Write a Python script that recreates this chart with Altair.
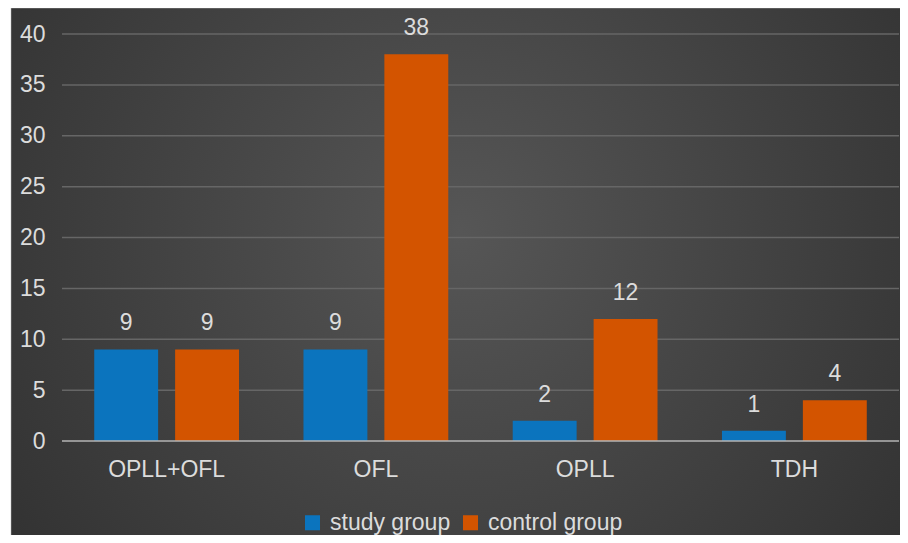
import altair as alt
import pandas as pd

categories = ["OPLL+OFL", "OFL", "OPLL", "TDH"]
study_group = [9, 9, 2, 1]
control_group = [9, 38, 12, 4]
series_names = ["study group", "control group"]
series_colors = ["#0B74BE", "#D35400"]
y_ticks = [0, 5, 10, 15, 20, 25, 30, 35, 40]

rows = []
for i, c in enumerate(categories):
    rows.append({"category": c, "group": series_names[0], "value": study_group[i]})
    rows.append({"category": c, "group": series_names[1], "value": control_group[i]})
df = pd.DataFrame(rows)

W, H = 837, 407
PAD_L, PAD_T, PAD_R, PAD_B = 54, 26, 1, 94
FONT = "Liberation Sans"
FS = 23
TXT = "#DCDCDC"

bg = alt.Chart(pd.DataFrame({"a": [0]})).mark_rect(
    fill=alt.RadialGradient(
        gradient="radial",
        x1=0.5, y1=0.45, r1=0.0,
        x2=0.5, y2=0.45, r2=0.75,
        stops=[
            alt.GradientStop(offset=0, color="#565656"),
            alt.GradientStop(offset=1, color="#2A2A2A"),
        ],
    ),
    stroke="#BBBBBB", strokeWidth=0.5,
).encode(
    x=alt.value(-51), x2=alt.value(W + PAD_R + 10),
    y=alt.value(-PAD_T), y2=alt.value(H + PAD_B + 10),
)

yscale = alt.Scale(domain=[0, 40], nice=False)

grid = alt.Chart(pd.DataFrame({"t": y_ticks[1:]})).mark_rule(
    color="#666666", strokeWidth=1.5
).encode(y=alt.Y("t:Q", scale=yscale, title=None), x=alt.value(0), x2=alt.value(W))

xenc = alt.X("category:N", sort=categories, title=None,
             scale=alt.Scale(paddingInner=0.308, paddingOuter=0.154),
             axis=alt.Axis(labelAngle=0, labelFontSize=FS, labelColor=TXT, labelFont=FONT,
                           ticks=False, domain=False, labelPadding=17, zindex=2))
xoff = alt.XOffset("group:N", sort=series_names,
                   scale=alt.Scale(paddingInner=0.21, paddingOuter=0))
yenc = alt.Y("value:Q", title=None, scale=yscale,
             axis=alt.Axis(values=y_ticks,
                           labelFontSize=FS, labelColor=TXT, labelFont=FONT,
                           ticks=False, domain=False, labelPadding=17,
                           grid=False, zindex=2))

bars = alt.Chart(df).mark_bar().encode(
    x=xenc, xOffset=xoff, y=yenc,
    color=alt.Color("group:N", sort=series_names,
                    scale=alt.Scale(domain=series_names, range=series_colors),
                    legend=alt.Legend(title=None, orient="none", legendX=239, legendY=H + 70,
                                      direction="horizontal", symbolType="square",
                                      symbolSize=225, symbolStrokeWidth=0,
                                      labelFontSize=FS, labelColor=TXT, labelFont=FONT,
                                      columnPadding=8, labelOffset=6)),
)

labels = alt.Chart(df).mark_text(dy=-26, fontSize=FS, color=TXT, font=FONT).encode(
    x=alt.X("category:N", sort=categories), xOffset=alt.XOffset("group:N", sort=series_names),
    y="value:Q", text="value:Q",
)

zero = alt.Chart(pd.DataFrame({"v": [0]})).mark_rule(color="#B5B5B5", strokeWidth=1.5).encode(
    y="v:Q", x=alt.value(0), x2=alt.value(W)
)

chart = alt.layer(bg, grid, bars, labels, zero).properties(
    width=W, height=H,
    autosize=alt.AutoSizeParams(type="none"),
    padding={"left": PAD_L, "top": PAD_T, "right": PAD_R, "bottom": PAD_B},
).configure(background="white").configure_view(stroke=None)

chart.save("out.html", embed_options={"renderer": "svg", "actions": False})
